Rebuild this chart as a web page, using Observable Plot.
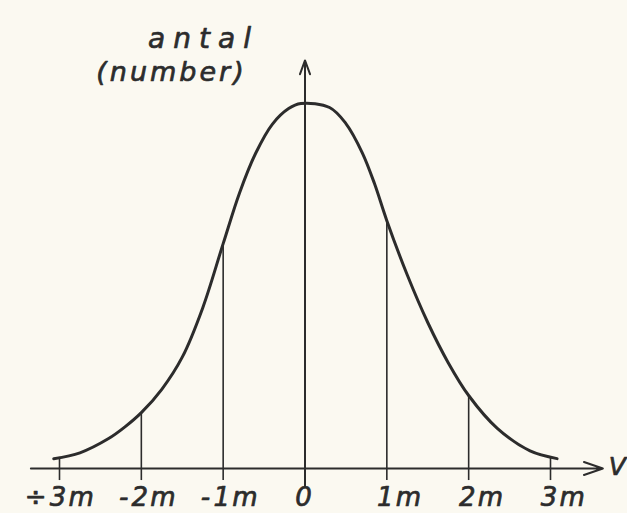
<!DOCTYPE html>
<html>
<head>
<meta charset="utf-8">
<script src="https://cdn.jsdelivr.net/npm/d3@7"></script>
<script src="https://cdn.jsdelivr.net/npm/@observablehq/plot@0.6"></script>
<style>
  html, body { margin: 0; padding: 0; background: #fbf9f1; }
  #chart svg { display: block; }
</style>
</head>
<body>
<div id="chart"></div>
<script>
// Bell-shaped frequency curve: deviation from the mean in units of m,
// count ("antal") relative to the top of the curve (= 100).
const curveX = [-3.07, -2.75, -2.4, -2.2, -2, -1.75, -1.5, -1.25, -1, -0.8, -0.6, -0.4, -0.2, -0.05,
                0.3, 0.5, 0.7, 0.85, 1, 1.25, 1.5, 1.75, 2, 2.35, 2.75, 3.08];
const curveY = [2.7, 4.3, 8.2, 11.4, 15.3, 21.7, 30.5, 44, 61.6, 75.5, 86.5, 94.3, 98.6, 100,
                98.9, 94.5, 86.5, 78, 67.9, 53, 40, 29, 20, 11, 4.8, 2.7];

// Marked deviations and their labels (÷ is the minus sign)
const tickValues = [-3, -2, -1, 0, 1, 2, 3];
const tickLabels = ["÷3m", "-2m", "-1m", "0", "1m", "2m", "3m"];

// Axis titles
const yTitle = ["antal", "(number)"];
const xTitle = "V";

// Extent of the drawn axes, in data units
const xAxisFrom = -3.35, xAxisTo = 3.64;
const yAxisFrom = -4.7, yAxisTo = 111.8;
const tickFoot = -3.3;

const ink = "#2c2c2c";
const font = "DejaVu Sans";

const curve = curveX.map((x, i) => ({x, y: curveY[i]}));

// Height of the curve at x, read between the traced points
function curveAt(x) {
  const i = d3.bisectLeft(curveX, x);
  if (i <= 0) return curveY[0];
  if (i >= curveX.length) return curveY[curveY.length - 1];
  const x0 = curveX[i - 1], x1 = curveX[i];
  const t = (x - x0) / (x1 - x0);
  return curveY[i - 1] + t * (curveY[i] - curveY[i - 1]);
}

// Split each label into sign, number and unit so the number sits on its tick
const labelParts = tickLabels.map((s, i) => {
  const m = s.match(/^([÷\-]?)(\d)(m?)$/);
  return {x: tickValues[i], sign: m[1], num: m[2], unit: m[3]};
});

// lettering: italic, strokes thickened slightly like pen lettering
const textStyle = {fontFamily: font, fontStyle: "italic", fill: ink, stroke: ink, strokeWidth: 0.7};

const chart = Plot.plot({
  width: 627,
  height: 513,
  marginLeft: 59,
  marginRight: 77,
  marginTop: 103,
  marginBottom: 45,
  style: {background: "#fbf9f1", overflow: "visible"},
  x: {domain: [-3, 3], axis: null},
  y: {domain: [0, 100], axis: null},
  marks: [
    // verticals from the axis up to the curve
    Plot.ruleX(tickValues.filter(v => v !== 0), {
      x: d => d, y1: () => tickFoot, y2: d => curveAt(d),
      stroke: ink, strokeWidth: 1.6
    }),
    // horizontal axis with arrow
    Plot.arrow([0], {
      x1: () => xAxisFrom, y1: () => 0, x2: () => xAxisTo, y2: () => 0,
      stroke: ink, strokeWidth: 2, headLength: 15, headAngle: 38
    }),
    // vertical axis with arrow
    Plot.arrow([0], {
      x1: () => 0, y1: () => yAxisFrom, x2: () => 0, y2: () => yAxisTo,
      stroke: ink, strokeWidth: 2, headLength: 11, headAngle: 40
    }),
    // the frequency curve
    Plot.line(curve, {
      x: "x", y: "y", curve: "catmull-rom",
      stroke: ink, strokeWidth: 3, strokeLinecap: "round"
    }),
    // tick labels
    Plot.text(labelParts, {
      x: "x", y: () => 0, text: "num", textAnchor: "middle", lineAnchor: "bottom",
      dy: 37, fontSize: 26, ...textStyle
    }),
    Plot.text(labelParts.filter(d => d.sign), {
      x: "x", y: () => 0, text: "sign", textAnchor: "end", lineAnchor: "bottom",
      dx: -10, dy: 37, fontSize: 26, ...textStyle
    }),
    Plot.text(labelParts.filter(d => d.unit), {
      x: "x", y: () => 0, text: "unit", textAnchor: "start", lineAnchor: "bottom",
      dx: 9, dy: 37, fontSize: 26, ...textStyle
    }),
    // axis titles
    Plot.text([yTitle[0]], {
      frameAnchor: "top-left", text: d => d, textAnchor: "middle", lineAnchor: "bottom",
      dx: 144, dy: -56, fontSize: 28, ...textStyle
    }),
    Plot.text([yTitle[1]], {
      frameAnchor: "top-left", text: d => d, textAnchor: "middle", lineAnchor: "bottom",
      dx: 112, dy: -23, fontSize: 27, ...textStyle
    }),
    Plot.text([xTitle], {
      x: () => xAxisTo, y: () => 0, text: d => d, textAnchor: "start", lineAnchor: "bottom",
      dx: 6, dy: 6, fontSize: 25, ...textStyle
    })
  ]
});

// wide spacing of the hand lettering; the title word is spaced widest
d3.select(chart).selectAll("text")
  .style("letter-spacing", function() {
    const t = this.textContent;
    return t === yTitle[0] ? "8px" : t === xTitle ? "0px" : "3px";
  });
document.getElementById("chart").appendChild(chart);
</script>
</body>
</html>
